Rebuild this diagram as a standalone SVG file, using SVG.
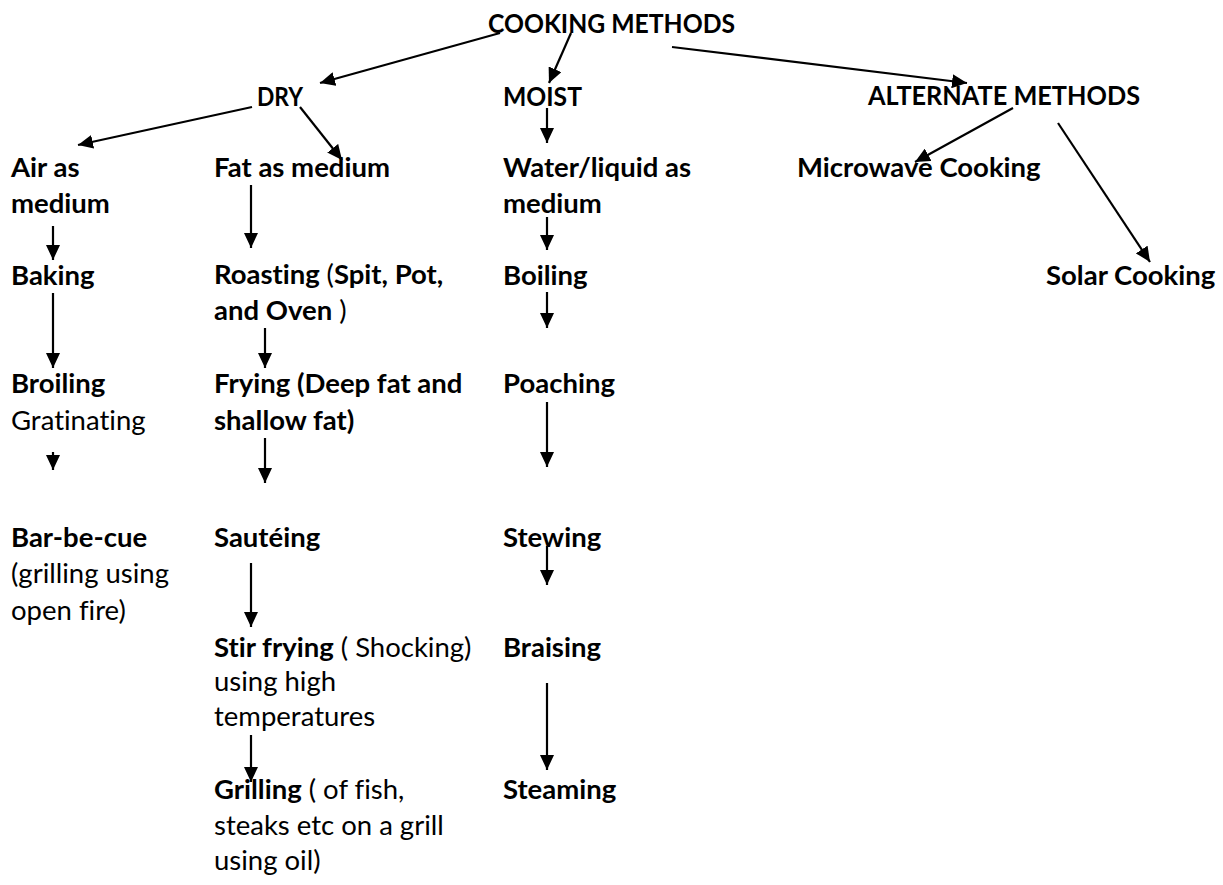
<svg xmlns="http://www.w3.org/2000/svg" width="1223" height="885" viewBox="0 0 1223 885">
<style>
text{font-family:Lato,"Liberation Sans",sans-serif;font-size:27.5px;fill:#000;font-variant-ligatures:none}
.b{font-weight:bold}
.r{font-weight:normal}
.c line{stroke:#000;stroke-width:2.2;marker-end:url(#ah)}
</style>
<defs>
<marker id="ah" markerUnits="userSpaceOnUse" markerWidth="16" markerHeight="14" refX="15" refY="7" orient="auto">
<path d="M0,0 L15,7 L0,14 z" fill="#000"/>
</marker>
</defs>
<rect width="1223" height="885" fill="#fff"/>
<g id="connectors" class="c">
<line x1="500" y1="33" x2="320" y2="83"/>
<line x1="571" y1="33" x2="549" y2="83"/>
<line x1="672" y1="47" x2="967" y2="83"/>
<line x1="252" y1="107" x2="78" y2="145"/>
<line x1="300" y1="107" x2="342" y2="160"/>
<line x1="547" y1="108" x2="547" y2="143"/>
<line x1="1013" y1="108" x2="915" y2="162"/>
<line x1="1058" y1="123" x2="1150" y2="262"/>
<line x1="53" y1="226" x2="53" y2="260"/>
<line x1="251" y1="185" x2="251" y2="248"/>
<line x1="53" y1="293" x2="53" y2="368"/>
<line x1="265" y1="328" x2="265" y2="368"/>
<line x1="53" y1="452" x2="53" y2="470"/>
<line x1="265" y1="438" x2="265" y2="483"/>
<line x1="547" y1="217" x2="547" y2="250"/>
<line x1="547" y1="292" x2="547" y2="328"/>
<line x1="547" y1="402" x2="547" y2="467"/>
<line x1="251" y1="563" x2="251" y2="627"/>
<line x1="547" y1="546" x2="547" y2="585"/>
<line x1="547" y1="683" x2="547" y2="770"/>
<line x1="251" y1="735" x2="251" y2="782"/>
</g>
<g id="n-cooking"><text class="b" x="488" y="33" textLength="247" lengthAdjust="spacingAndGlyphs">COOKING METHODS</text></g>
<g id="n-dry"><text class="b" x="257" y="106" textLength="46" lengthAdjust="spacingAndGlyphs">DRY</text></g>
<g id="n-moist"><text class="b" x="503" y="106" textLength="79" lengthAdjust="spacingAndGlyphs">MOIST</text></g>
<g id="n-alternate"><text class="b" x="868" y="105" textLength="272" lengthAdjust="spacingAndGlyphs">ALTERNATE METHODS</text></g>
<g id="n-air"><text class="b" x="11" y="177">Air as</text><text class="b" x="11" y="213">medium</text></g>
<g id="n-fat"><text class="b" x="214" y="177">Fat as medium</text></g>
<g id="n-water"><text class="b" x="503" y="177">Water/liquid as</text><text class="b" x="503" y="213">medium</text></g>
<g id="n-microwave"><text class="b" x="797" y="177">Microwave Cooking</text></g>
<g id="n-baking"><text class="b" x="11" y="285">Baking</text></g>
<g id="n-roasting"><text x="214" y="284"><tspan class="b">Roasting </tspan><tspan class="r">(</tspan><tspan class="b">Spit, Pot,</tspan></text><text x="214" y="320"><tspan class="b">and Oven</tspan><tspan class="r"> )</tspan></text></g>
<g id="n-boiling"><text class="b" x="503" y="285">Boiling</text></g>
<g id="n-solar"><text class="b" x="1046" y="285">Solar Cooking</text></g>
<g id="n-broiling"><text class="b" x="11" y="393">Broiling</text><text class="r" x="11" y="430">Gratinating</text></g>
<g id="n-frying"><text class="b" x="214" y="393">Frying (Deep fat and</text><text class="b" x="214" y="430">shallow fat)</text></g>
<g id="n-poaching"><text class="b" x="503" y="393">Poaching</text></g>
<g id="n-barbecue"><text class="b" x="11" y="547">Bar-be-cue</text><text class="r" x="11" y="583">(grilling using</text><text class="r" x="11" y="620">open fire)</text></g>
<g id="n-sauteing"><text class="b" x="214" y="547">Sautéing</text></g>
<g id="n-stewing"><text class="b" x="503" y="547">Stewing</text></g>
<g id="n-stirfrying"><text x="214" y="657"><tspan class="b">Stir frying</tspan><tspan class="r"> ( Shocking)</tspan></text><text class="r" x="214" y="691">using high</text><text class="r" x="214" y="726">temperatures</text></g>
<g id="n-braising"><text class="b" x="503" y="657">Braising</text></g>
<g id="n-grilling"><text x="214" y="799"><tspan class="b">Grilling</tspan><tspan class="r"> ( of fish,</tspan></text><text class="r" x="214" y="835">steaks etc on a grill</text><text class="r" x="214" y="870">using oil)</text></g>
<g id="n-steaming"><text class="b" x="503" y="799">Steaming</text></g>
</svg>
